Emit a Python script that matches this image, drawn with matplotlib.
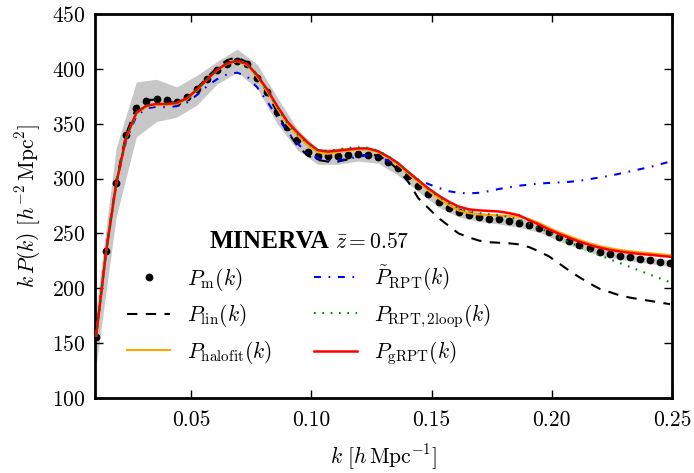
import matplotlib
matplotlib.use("Agg")
import matplotlib.pyplot as plt

plt.rcParams.update({
    "font.family": "serif",
    "font.serif": ["cmr10"],
    "mathtext.fontset": "cm",
    "axes.unicode_minus": False,
    "axes.formatter.use_mathtext": True,
    "font.size": 15.5,
    "lines.scale_dashes": False,
})

# measured spectrum (bin centres, h/Mpc) and k*P(k)
k_m = [0.0105, 0.0146, 0.0188, 0.0230, 0.0272, 0.0314, 0.0356, 0.0398, 0.0440, 0.0481,
       0.0523, 0.0565, 0.0607, 0.0649, 0.0691, 0.0733, 0.0775, 0.0817, 0.0858, 0.0900,
       0.0942, 0.0984, 0.1026, 0.1068, 0.1110, 0.1152, 0.1194, 0.1235, 0.1277, 0.1319,
       0.1361, 0.1403, 0.1445, 0.1487, 0.1529, 0.1571, 0.1612, 0.1654, 0.1696, 0.1738,
       0.1780, 0.1822, 0.1864, 0.1906, 0.1948, 0.1989, 0.2031, 0.2073, 0.2115, 0.2157,
       0.2199, 0.2241, 0.2283, 0.2325, 0.2366, 0.2408, 0.2450, 0.2492]
kP_m = [156, 234, 296, 340, 364, 371, 372.5, 371.5, 370, 374,
        382, 391, 399, 404, 407, 404, 392, 379, 361, 347,
        335, 324, 320.5, 320.5, 320.8, 321.5, 322.5, 321.5, 320, 315.5,
        309.3, 302, 293, 286.3, 279, 273.3, 269.3, 266.8, 265.1, 263.3,
        262.8, 261.6, 259.8, 257.5, 255, 251.5, 247, 243.4, 239.4, 236.4,
        233.4, 231.2, 229.4, 228.2, 226.7, 225.8, 224.2, 222.7]

# model predictions evaluated on the same k grid
kP_lin = [157, 234, 297, 341, 365, 371.5, 372, 370, 369, 373,
          382, 392, 401, 408, 410.5, 406, 394, 378, 360, 343,
          330, 321, 317, 315.5, 315.5, 317.5, 320.5, 322, 321, 316,
          308, 297, 282, 273, 264, 257, 250, 246.5, 243.5, 242,
          241.5, 241, 240, 237.5, 233.5, 229, 222.5, 216, 210, 204.5,
          199.5, 196.5, 193.5, 191.5, 190, 188.5, 187, 185.5]
kP_halofit = [157, 233, 294.5, 337, 359, 365.5, 367, 367, 368, 372,
              380, 389.5, 398.5, 404.5, 407, 403.5, 392.5, 379, 364, 349.5,
              339.5, 330.5, 324, 322.5, 324, 325.5, 326.5, 326.5, 324, 319,
              312.5, 304.5, 296.5, 289, 282, 276, 271, 268.5, 267.3, 266.8,
              266.5, 266, 265, 263, 259.5, 255, 251, 247.5, 244, 241,
              238.5, 236.5, 235, 233.8, 232.8, 232, 231, 230.2]
kP_rpt = [157, 233, 294, 335, 357, 364, 365.5, 365, 366, 369,
          376, 384, 390.5, 395, 396.5, 393, 383, 370, 356, 343,
          332, 323.5, 318.5, 316.5, 316.5, 318, 320, 321, 319.5, 316.5,
          311, 304.5, 299, 295, 291.5, 288.5, 287, 286.5, 287, 288.5,
          290.5, 292, 293.5, 294.5, 295.5, 296, 296.5, 297, 298, 299.5,
          301, 302.5, 304.5, 306.5, 308.5, 310.5, 313, 315.5]
kP_rpt2 = [157, 233, 295, 338, 360, 366.5, 368, 368, 369, 373,
           381, 390, 399, 405, 407.5, 404, 393.5, 380, 365, 350.5,
           340.5, 332, 326, 325, 326.5, 328, 328.5, 328, 325.5, 320.5,
           314, 306, 298, 290.5, 283.5, 277.5, 273, 270, 268.5, 267.5,
           266.5, 265, 262.5, 259, 255, 251, 246.5, 242, 238, 234,
           230, 226.5, 223, 219.5, 216, 212.5, 209, 205.5]
kP_grpt = [157, 233, 295, 338, 360, 366.5, 368, 368, 369, 373,
           381, 390, 399, 405, 407.5, 404.5, 394, 381, 366, 352,
           342, 333, 326, 324.5, 325.5, 326.5, 327.5, 327.5, 325, 320,
           314, 306, 298.5, 291, 284.5, 279, 274.5, 272, 271, 270.5,
           270, 268.5, 266.5, 262, 258, 253.5, 249.5, 246, 242.5, 239.5,
           237, 235, 233.5, 232.3, 231.3, 230.5, 229.6, 228.7]

# scatter band of the measurements
k_band = [0.0105, 0.0188, 0.0272, 0.0356, 0.0440, 0.0523, 0.0607, 0.0691, 0.0775, 0.0858,
          0.0942, 0.1026, 0.1110, 0.1194, 0.1277, 0.1361, 0.1445, 0.1529, 0.1612, 0.1696,
          0.1780, 0.1864, 0.1948, 0.2031, 0.2115, 0.2199, 0.2283, 0.2366, 0.2450, 0.2492]
band_hi = [183, 328, 388, 390.5, 383.5, 394, 406.5, 418, 404, 374,
           345, 327, 328, 329, 326, 315, 298, 284, 274, 269.5,
           267, 264, 259, 251, 243, 237, 232.5, 229.8, 227.2, 225.7]
band_lo = [130, 265, 338, 352, 356, 367, 386, 397, 382, 350,
           326, 313, 313, 316, 314, 303, 288, 274, 265, 261,
           258.5, 255.5, 251, 243, 236, 230, 226.3, 223.6, 221.2, 219.7]

fig = plt.figure(figsize=(6.94, 4.73), dpi=100)
ax = fig.add_axes([0.1369, 0.1586, 0.8314, 0.8118])

ax.fill_between(k_band, band_lo, band_hi, color="0.78", lw=0, zorder=1)
ax.plot(k_m, kP_m, "o", color="k", ms=5.6, mew=0, zorder=2, label=r"$P_{\rm m}(k)$")
ax.plot(k_m, kP_lin, color="k", lw=1.5, dashes=(7.5, 6), zorder=3,
        label=r"$P_{\rm lin}(k)$")
ax.plot(k_m, kP_halofit, color="#ffa500", lw=1.5, zorder=4,
        label=r"$P_{\rm halofit}(k)$")
ax.plot(k_m, kP_rpt, color="#0000ff", lw=1.5, dashes=(5, 5.5, 1.2, 5.5), zorder=3,
        label=r"$\tilde{P}_{\rm RPT}(k)$")
ax.plot(k_m, kP_rpt2, color="#008000", lw=1.5, dashes=(1.2, 4.8), zorder=6,
        label=r"$P_{\rm RPT,2loop}(k)$")
ax.plot(k_m, kP_grpt, color="#ff0000", lw=1.8, zorder=5,
        label=r"$P_{\rm gRPT}(k)$")

ax.set_xlim(0.01, 0.25)
ax.set_ylim(100, 450)
ax.set_xticks([0.05, 0.10, 0.15, 0.20, 0.25])
ax.set_xticklabels(["0.05", "0.10", "0.15", "0.20", "0.25"])
ax.set_yticks([100, 150, 200, 250, 300, 350, 400, 450])
ax.tick_params(direction="in", top=True, right=True, length=6, width=1.0, pad=7)
ax.tick_params(axis="x", pad=9)
for s in ax.spines.values():
    s.set_linewidth(2.0)

ax.set_xlabel(r"$k\ [h\,\mathrm{Mpc}^{-1}]$", labelpad=9)
ax.set_ylabel(r"$k\,P(k)\ [h^{-2}\,\mathrm{Mpc}^{2}]$", labelpad=6)

ax.legend(ncol=2, loc="lower center", bbox_to_anchor=(0.371, 0.03),
          frameon=False, numpoints=1, handlelength=2.0, handletextpad=0.8,
          columnspacing=1.9, labelspacing=0.45)

# legend heading: simulation name and redshift
ax.text(0.199, 0.39, "MINERVA", transform=ax.transAxes, ha="left", va="baseline",
        family="Liberation Serif", weight="bold", fontsize=18.3)
ax.text(0.416, 0.39, r"$\bar{z}=0.57$", transform=ax.transAxes, ha="left",
        va="baseline", fontsize=15.5)

fig.savefig("out.png", dpi=100)
